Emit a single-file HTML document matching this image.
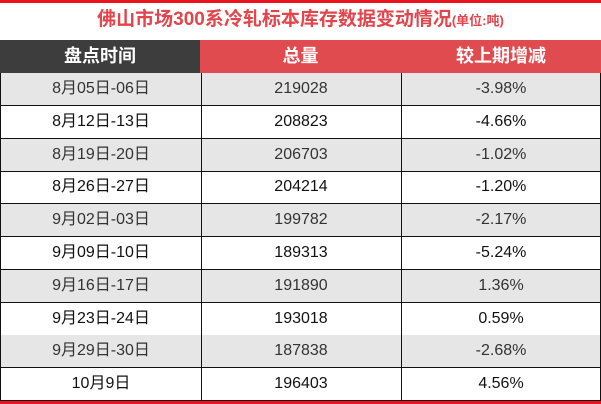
<!DOCTYPE html>
<html><head><meta charset="utf-8"><style>
body{margin:0;width:601px;height:404px;background:#fff;overflow:hidden;font-family:"Liberation Sans","Noto Sans CJK SC",sans-serif;position:relative}
.top{position:absolute;left:0;top:0;width:601px;height:3px;background:#e8141b}
.bot{position:absolute;left:0;top:401px;width:601px;height:3px;background:#e8141b}
.title{position:absolute;left:0;top:7px;width:601px;text-align:center;color:#e2454b;font-weight:bold;font-size:19px;line-height:26px}
.title small{font-size:13px;font-weight:bold}
.hd{position:absolute;top:40px;height:33px;line-height:33px;color:#fff;font-weight:bold;font-size:18px;text-align:center}
.row{position:absolute;left:0;width:601px;height:32px;border-bottom:1px solid #111}
.row div{position:absolute;top:0;height:32px;line-height:32px;text-align:center;font-size:16px;color:#333}
.c1{left:0;width:200px;border-left:1px solid #111;border-right:1px solid #111}
.c2{left:201px;width:200px;border-right:1px solid #111}
.c3{left:402px;width:198px;border-right:1px solid #111}
.g{background:#e6e6e6}
.k div{color:#111}
</style></head><body>
<div class="top"></div>
<div class="title">佛山市场300系冷轧标本库存数据变动情况<small>(单位:吨)</small></div>
<div class="hd" style="left:0;width:200px;background:#3d3d3d">盘点时间</div>
<div class="hd" style="left:200px;width:401px;background:#e04b4f"></div>
<div class="hd" style="left:200px;width:201px">总量</div>
<div class="hd" style="left:401px;width:200px">较上期增减</div>
<div id="rows"></div>
<div class="bot"></div>
<script>
const dates=["8月05日-06日","8月12日-13日","8月19日-20日","8月26日-27日","9月02日-03日","9月09日-10日","9月16日-17日","9月23日-24日","9月29日-30日","10月9日"];
const totals=["219028","208823","206703","204214","199782","189313","191890","193018","187838","196403"];
const changes=["-3.98%","-4.66%","-1.02%","-1.20%","-2.17%","-5.24%","1.36%","0.59%","-2.68%","4.56%"];
const rows=document.getElementById('rows');
for(let i=0;i<dates.length;i++){
  const r=document.createElement('div');
  r.className='row'+(i%2===0?' g':' k');
  r.style.top=(73+i*32.8)+'px';
  
  
  const vals=[dates[i],totals[i],changes[i]];
  const cls=['c1','c2','c3'];
  const names=['date-cell','total-cell','change-cell'];
  for(let j=0;j<3;j++){
    const c=document.createElement('div');
    c.className=cls[j];
    c.textContent=vals[j];
    
    
    r.appendChild(c);
  }
  rows.appendChild(r);
}
</script>
</body></html>
